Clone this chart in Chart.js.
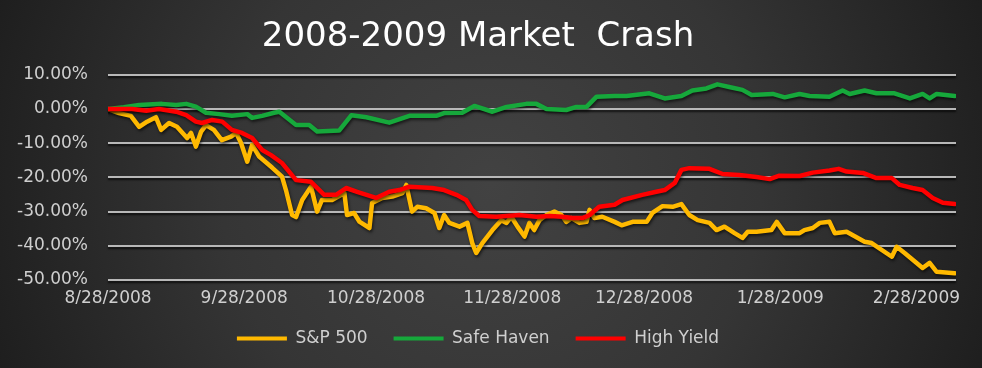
<!DOCTYPE html>
<html>
<head>
<meta charset="utf-8">
<title>2008-2009 Market Crash</title>
<script src="https://cdn.jsdelivr.net/npm/chart.js@4.4.0/dist/chart.umd.min.js"></script>
<style>
  html, body { margin: 0; padding: 0; }
  body {
    width: 982px; height: 368px; overflow: hidden;
    background: radial-gradient(ellipse at 50% 50%, #444 0%, #333 55%, #1f1f1f 100%);
  }
  #wrap { position: relative; width: 982px; height: 368px; }
</style>
</head>
<body>
<div id="wrap"><canvas id="chart"></canvas></div>
<script>
// x values = days since 8/28/2008, y values = % change
const tickDays = [0, 31, 61, 92, 122, 153, 184];
const tickLabels = ['8/28/2008', '9/28/2008', '10/28/2008', '11/28/2008', '12/28/2008', '1/28/2009', '2/28/2009'];

const spxDays = [0,2.5,5.2,7.1,8.9,10.9,12.1,13.9,15.7,18,
  18.9,20,21.2,22.3,24.1,25.9,28,29.2,30.3,31.7,
  32.8,34.4,37.4,39.6,40.5,41.9,42.8,44.2,46.2,47.6,
  48.7,51,53.8,54.4,56,57.2,59.5,60.1,62.4,64.7,
  67,67.9,69.2,70.4,72.4,74.3,75.4,76.5,77.7,80,
  81.8,82.9,83.8,85.2,87.5,89.5,90.7,91.8,93.2,94.8,
  95.9,97,98.2,99.8,101.6,103.2,104.3,105.5,107.3,108.9,
  109.6,110.7,112.5,115.3,116.9,119.4,122.6,123.9,126.2,128.5,
  130.5,132.3,134.2,136.9,138.5,140.3,142.6,144.4,145.6,147.6,
  151,152.2,154,157.4,158.5,160.4,162,164.2,165.4,168.1,
  172.2,173.8,178.4,179.5,181.3,185.4,187,188.6,192.7];
const spxVals = [0,-1.2,-2,-5.2,-3.7,-2.4,-6.1,-4.1,-5.2,-8.5,
  -7,-11,-6.6,-4.7,-6.1,-9.1,-8.1,-7,-10,-15.4,
  -10.5,-13.9,-17.2,-19.8,-23.7,-31,-31.6,-26.6,-22.7,-30,
  -26.6,-26.6,-24.6,-31,-30.4,-32.9,-34.8,-27.5,-26,-25.6,
  -24.6,-22.2,-30,-28.6,-29,-30.4,-34.8,-31,-33.3,-34.4,
  -33.3,-39.2,-42.1,-39.2,-35.4,-32.5,-33.3,-31.5,-34.4,-37.3,
  -33.3,-35.4,-32.5,-31,-30,-31,-33,-31.9,-33.3,-33,
  -29.5,-31.9,-31.5,-33,-34,-33,-33,-30.4,-28.4,-28.6,
  -27.8,-31,-32.5,-33.3,-35.4,-34.4,-36.3,-37.7,-35.9,-35.9,
  -35.4,-33,-36.3,-36.3,-35.4,-34.8,-33.3,-33,-36.3,-35.9,
  -38.8,-39.2,-43.2,-40.3,-42.1,-46.5,-45,-47.6,-48];

const safeDays = [0,3.6,7.1,12.3,15.5,17.8,20,22.3,25.3,28.2,
  31.7,32.8,35.1,37.8,39,42.8,45.8,47.6,52.6,55.4,
  58.8,64,68.6,74.7,76.5,80.6,83.4,87.5,90.7,95.2,
  97.5,99.8,104.3,106.6,108.9,111.2,115.3,118,123.2,126.7,
  130.5,133,136.2,138.7,141.9,144.4,146.5,151.3,154,157.4,
  159.7,164.2,167.2,168.8,172.2,174.9,179,182.5,185.4,187,188.6,192.7];
const safeVals = [0,0.5,1.2,1.5,1.2,1.5,0.7,-1.1,-1.5,-2,
  -1.5,-2.6,-2,-1.1,-0.8,-4.7,-4.7,-6.6,-6.3,-1.8,
  -2.4,-4,-2,-2,-1.2,-1.1,0.9,-0.8,0.6,1.5,
  1.5,0,-0.3,0.6,0.6,3.6,3.8,3.8,4.6,3.1,
  3.8,5.4,6,7.2,6.3,5.6,4.1,4.4,3.4,4.4,
  3.8,3.6,5.4,4.4,5.4,4.6,4.6,3.1,4.4,3.1,4.4,3.8];

const hyDays = [0,5.5,8.7,11.6,15.5,17.8,20,21.4,23.7,26,
  28.2,30.5,32.8,35.1,37.1,39.6,42.8,46.2,49.2,51.9,
  54.2,56.7,61,64,66.3,68.6,73.8,76.5,79.3,81.5,
  82.9,84.5,88.4,93.6,97.5,100.5,103.4,105.7,108,109.6,
  111.8,115.3,117.1,121.6,124.8,126.7,129,130.5,132.3,136.9,
  139.9,143.7,147.6,150.6,152.8,157.4,160.4,164.2,166.3,168.1,
  171.8,174.9,178.4,180.2,183.1,185.4,187.7,190,192.7];
const hyVals = [0,0,-0.5,0,-0.8,-1.8,-3.7,-4.1,-3.2,-3.7,
  -6.1,-7,-8.5,-12,-13.5,-15.8,-20.8,-21.3,-25.1,-25.1,
  -23.1,-24.2,-26,-24.2,-23.7,-22.7,-23.1,-23.7,-25.1,-26.6,
  -29.5,-31.3,-31.5,-31,-31.5,-31.3,-31.5,-31.9,-31.9,-31,
  -28.6,-28,-26.6,-25.1,-24.2,-23.7,-21.6,-17.8,-17.3,-17.5,
  -19,-19.3,-19.9,-20.5,-19.5,-19.6,-18.6,-18,-17.5,-18.3,
  -18.7,-20.2,-20.2,-22.2,-23.1,-23.7,-26,-27.4,-27.8];

function pairs(xs, ys) {
  return xs.map((x, i) => ({ x: x, y: ys[i] }));
}

const font = 'DejaVu Sans';
const textColor = '#cfcfcf';

// Hintergrund, Gitterlinien (aus den Ticks der y-Achse) und Schatten unter den Linien
const gridAndShadow = {
  id: 'gridAndShadow',
  beforeDraw(chart) {
    const c = chart.ctx;
    const w = chart.width, h = chart.height;
    const g = c.createRadialGradient(w / 2, h / 2, 0, w / 2, h / 2, w * 0.55);
    g.addColorStop(0, '#424242');
    g.addColorStop(0.5, '#353535');
    g.addColorStop(1, '#1d1d1d');
    c.save();
    c.fillStyle = g;
    c.fillRect(0, 0, w, h);
    c.restore();
  },
  beforeDatasetsDraw(chart) {
    const c = chart.ctx;
    const area = chart.chartArea;
    const yScale = chart.scales.y;
    c.save();
    c.strokeStyle = '#b8b8b8';
    c.lineWidth = 2;
    c.shadowColor = 'rgba(0,0,0,0.7)';
    c.shadowBlur = 2;
    c.shadowOffsetY = 2;
    yScale.ticks.forEach(t => {
      const py = Math.round(yScale.getPixelForValue(t.value));
      c.beginPath();
      c.moveTo(area.left, py);
      c.lineTo(area.right, py);
      c.stroke();
    });
    c.restore();
    c.save();
    c.shadowColor = 'rgba(0,0,0,0.6)';
    c.shadowBlur = 3;
    c.shadowOffsetX = 1;
    c.shadowOffsetY = 2;
  },
  afterDatasetsDraw(chart) {
    chart.ctx.restore();
  }
};

const lineStyle = {
  fill: false,
  borderWidth: 4.5,
  pointRadius: 0,
  tension: 0,
  borderJoinStyle: 'round',
  borderCapStyle: 'round'
};

// High Yield zuerst, damit es oben liegt; Legende wird umgedreht
new Chart(document.getElementById('chart'), {
  type: 'line',
  data: {
    datasets: [
      { label: 'High Yield', data: pairs(hyDays, hyVals), borderColor: '#ff0000', backgroundColor: '#ff0000', ...lineStyle },
      { label: 'Safe Haven', data: pairs(safeDays, safeVals), borderColor: '#16a83b', backgroundColor: '#16a83b', ...lineStyle },
      { label: 'S&P 500', data: pairs(spxDays, spxVals), borderColor: '#ffb900', backgroundColor: '#ffb900', ...lineStyle }
    ]
  },
  options: {
    responsive: true,
    maintainAspectRatio: false,
    animation: false,
    devicePixelRatio: 1,
    layout: { padding: { left: 0, right: 26, top: 0, bottom: 11 } },
    scales: {
      x: {
        type: 'linear',
        min: 0,
        max: 193,
        grid: { display: false, drawTicks: false },
        border: { display: false },
        afterBuildTicks: scale => { scale.ticks = tickDays.map(v => ({ value: v })); },
        afterFit: scale => { scale.height = 24; },
        ticks: {
          autoSkip: false,
          maxRotation: 0,
          padding: 8,
          color: textColor,
          font: { family: font, size: 17 },
          callback: v => tickLabels[tickDays.indexOf(v)]
        }
      },
      y: {
        min: -50,
        max: 10,
        grid: { display: false, drawTicks: false },
        border: { display: false },
        afterFit: scale => { scale.width = 108; },
        ticks: {
          stepSize: 10,
          padding: 20,
          color: textColor,
          font: { family: font, size: 17 },
          callback: v => v.toFixed(2) + '%'
        }
      }
    },
    plugins: {
      title: {
        display: true,
        text: '2008-2009 Market  Crash',
        color: '#ffffff',
        font: { family: font, size: 34, weight: 'normal' },
        padding: { top: 17, bottom: 17 }
      },
      legend: {
        position: 'bottom',
        labels: {
          color: textColor,
          font: { family: font, size: 17 },
          boxWidth: 50,
          boxHeight: 4,
          padding: 26,
          sort: (a, b) => b.datasetIndex - a.datasetIndex,
          generateLabels: chart => Chart.defaults.plugins.legend.labels.generateLabels(chart)
            .map(l => Object.assign(l, { lineWidth: 0 }))
        }
      },
      tooltip: { enabled: false }
    }
  },
  plugins: [gridAndShadow]
});
</script>
</body>
</html>
